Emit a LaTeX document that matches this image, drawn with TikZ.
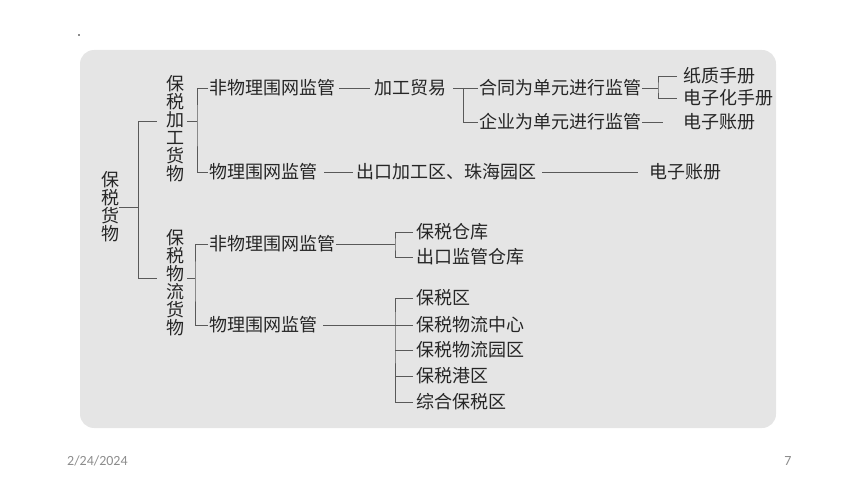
\documentclass[tikz,border=0pt]{standalone}
\usepackage{fontspec}
\setmainfont{Carlito}
\newfontfamily\cjk{Noto Sans CJK SC}
\begin{document}
\begin{tikzpicture}[x=1pt,y=-1pt,
  box/.style={anchor=west, inner sep=0, outer sep=1pt, text=black!85, font=\cjk\fontsize{18}{18}\selectfont},
  col/.style={align=center, inner sep=0, text=black!85, font=\cjk\fontsize{18}{18}\selectfont},
  foot/.style={inner sep=0, text=black!45, font=\fontsize{14}{14}\selectfont},
  ln/.style={black!65, line width=0.8pt}]
  \useasboundingbox (0,0) rectangle (860,484);
  \fill[black!10, rounded corners=14pt] (80,50) rectangle (776,428);
  \fill[black!45] (78,34) rectangle (80,36);

  \node[col] (gb) at (110,207) {保\\税\\货\\物};
  \node[col] (jg) at (175,129) {保\\税\\加\\工\\货\\物};
  \node[col] (wl) at (175,282.5) {保\\税\\物\\流\\货\\物};

  \node[box] (a1) at (208,88) {非物理围网监管};
  \node[box] (a11) at (373,88) {加工贸易};
  \node[box] (b111) at (478,88) {合同为单元进行监管};
  \node[box] (b112) at (478,122) {企业为单元进行监管};
  \node[box] (b1111) at (682,76) {纸质手册};
  \node[box] (b1112) at (682,98) {电子化手册};
  \node[box] (b1121) at (682,122) {电子账册};
  \node[box] (a2) at (208,172) {物理围网监管};
  \node[box] (a21) at (355,172) {出口加工区、珠海园区};
  \node[box] (a211) at (648,172) {电子账册};

  \node[box] (d1) at (208,244) {非物理围网监管};
  \node[box] (d11) at (415,232) {保税仓库};
  \node[box] (d12) at (415,257) {出口监管仓库};
  \node[box] (d2) at (208,325) {物理围网监管};
  \node[box] (e1) at (415,298) {保税区};
  \node[box] (e2) at (415,325) {保税物流中心};
  \node[box] (e3) at (415,350) {保税物流园区};
  \node[box] (e4) at (415,376) {保税港区};
  \node[box] (e5) at (415,402) {综合保税区};

  \node[foot, anchor=west] (date) at (67,461) {2/24/2024};
  \node[foot] (page) at (788,461) {7};

  \coordinate (t0) at (138,207);
  \coordinate (b1) at (197,121);
  \coordinate (b2) at (195,278);
  \coordinate (c1) at (463,88);
  \coordinate (c2) at (658,88);
  \coordinate (c3) at (395,244);
  \coordinate (c4) at (395,325);

  \draw[ln] (gb.east) -- (t0);
  \draw[ln] (t0) |- ([xshift=-9pt,yshift=8pt]jg.west);
  \draw[ln] (t0) |- ([xshift=-9pt,yshift=4.5pt]wl.west);

  \draw[ln] ([xshift=3pt,yshift=8pt]jg.east) -- (b1);
  \draw[ln] (a1.west) -| (b1) |- (a2.west);
  \draw[ln, shorten <=3pt, shorten >=3pt] (a1.east) -- (a11.west);
  \draw[ln, shorten <=6pt] (a11.east) -- (b111.west);
  \draw[ln] (c1) |- (b112.west);
  \draw[ln] (b111.east) -- (c2);
  \draw[ln, shorten <=5pt, shorten >=5pt] (b1111.west) -| (c2) |- (b1112.west);
  \draw[ln, shorten >=19pt] (b112.east) -- (b1121.west);
  \draw[ln, shorten <=6pt, shorten >=2pt] (a2.east) -- (a21.west);
  \draw[ln, shorten <=5pt, shorten >=10pt] (a21.east) -- (a211.west);

  \draw[ln] ([xshift=3pt,yshift=4.5pt]wl.east) -- (b2);
  \draw[ln] (d1.west) -| (b2) |- (d2.west);
  \draw[ln] (d1.east) -- (c3);
  \draw[ln, shorten <=2pt, shorten >=2pt] (d11.west) -| (c3) |- (d12.west);
  \draw[ln, shorten <=5pt] (d2.east) -- (c4);
  \draw[ln, shorten <=2pt, shorten >=2pt] (e1.west) -| (c4) |- (e5.west);
  \draw[ln, shorten <=2pt] (e2.west) -- (c4);
  \draw[ln, shorten <=2pt] (e3.west) -- (e3.west -| c4);
  \draw[ln, shorten <=2pt] (e4.west) -- (e4.west -| c4);
\end{tikzpicture}
\end{document}
